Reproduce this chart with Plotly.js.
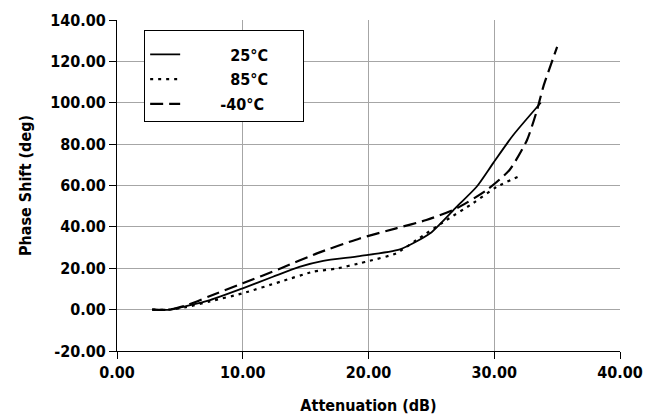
<!DOCTYPE html>
<html>
<head>
<meta charset="utf-8">
<script src="https://cdn.plot.ly/plotly-3.0.1.min.js"></script>
<style>html,body{margin:0;padding:0;background:#fff;}#chart{width:658px;height:419px;}</style>
</head>
<body>
<div id="chart"></div>
<script>
// Series data
const x25 = [2.8, 4.2, 5.5, 7.4, 10.0, 12.4, 14.5, 16.4, 19.3, 22.5, 24.9, 27.0, 28.6, 29.9, 31.5, 33.7];
const y25 = [0.0, 0.0, 1.7, 4.6, 10.3, 15.9, 20.7, 23.6, 25.9, 29.1, 36.9, 49.7, 59.4, 70.7, 84.3, 100.0];

const x85 = [2.8, 4.2, 5.5, 7.4, 10.0, 13.0, 15.6, 17.5, 19.3, 20.1, 22.2, 23.8, 26.2, 28.3, 30.2, 32.0];
const y85 = [0.0, 0.0, 1.2, 4.0, 7.9, 13.5, 18.3, 19.9, 22.4, 23.6, 27.2, 33.6, 43.3, 51.4, 59.4, 64.5];

const xm40 = [2.8, 4.2, 5.5, 7.4, 10.0, 13.0, 15.9, 19.3, 22.2, 24.6, 27.0, 29.4, 31.2, 32.6, 33.4, 33.9, 35.0];
const ym40 = [0.0, 0.0, 2.0, 6.6, 12.7, 19.9, 27.2, 34.4, 39.3, 43.3, 48.9, 57.8, 67.4, 81.9, 96.4, 107.7, 127.0];

const seriesNames = ["25°C", "85°C", "-40°C"];
const xTicks = [0, 10, 20, 30, 40];
const yTicks = [-20, 0, 20, 40, 60, 80, 100, 120, 140];

const FONT = '"DejaVu Sans Condensed", "DejaVu Sans", sans-serif';
const pad = (n) => "\u00A0".repeat(n);

const traces = [
  {x: x25, y: y25, name: pad(9) + seriesNames[0] + pad(6), legendgroup: 'a', mode: 'lines',
   line: {color: '#000', width: 1.8, dash: 'solid', shape: 'spline', smoothing: 0.6}},
  {x: x85, y: y85, name: pad(9) + seriesNames[1] + pad(6), legendgroup: 'b', mode: 'lines',
   line: {color: '#000', width: 2.2, dash: '3px,5px', shape: 'spline', smoothing: 0.6}},
  {x: xm40, y: ym40, name: pad(7) + seriesNames[2] + pad(6), legendgroup: 'c', mode: 'lines',
   line: {color: '#000', width: 2.2, dash: '13px,6px', shape: 'spline', smoothing: 0.6}}
];

const layout = {
  width: 658, height: 419,
  margin: {l: 117, r: 38, t: 20, b: 68},
  paper_bgcolor: '#fff', plot_bgcolor: '#fff',
  font: {family: FONT, size: 16, color: '#000', weight: 'bold'},
  showlegend: true,
  legend: {
    x: 0.054, y: 0.97, xanchor: 'left', yanchor: 'top',
    bgcolor: '#fff', bordercolor: '#000', borderwidth: 1,
    font: {family: FONT, size: 16, color: '#000', weight: 'bold'},
    title: {text: '\u00A0', font: {family: FONT, size: 5}},
    traceorder: 'grouped', tracegroupgap: 1
  },
  xaxis: {
    range: [0, 40], tickvals: xTicks, ticktext: xTicks.map(v => v.toFixed(2)),
    showgrid: true, gridcolor: '#a6a6a6', gridwidth: 1,
    showline: true, linecolor: '#000', linewidth: 1, mirror: false,
    ticks: 'outside', ticklen: 7, tickcolor: '#000',
    zeroline: false,
    tickfont: {family: FONT, size: 16, color: '#000', weight: 'bold'},
    title: {text: 'Attenuation (dB)', font: {family: FONT, size: 16, color: '#000', weight: 'bold'}, standoff: 18}
  },
  yaxis: {
    range: [-20, 140], tickvals: yTicks, ticktext: yTicks.map(v => v.toFixed(2)),
    showgrid: true, gridcolor: '#a6a6a6', gridwidth: 1,
    showline: true, linecolor: '#000', linewidth: 1, mirror: false,
    ticks: 'outside', ticklen: 7, tickcolor: '#000',
    zeroline: false,
    tickfont: {family: FONT, size: 16, color: '#000', weight: 'bold'},
    title: {text: 'Phase Shift (deg)', font: {family: FONT, size: 16, color: '#000', weight: 'bold'}, standoff: 14}
  }
};

Plotly.newPlot('chart', traces, layout, {displayModeBar: false, staticPlot: true});
</script>
</body>
</html>
